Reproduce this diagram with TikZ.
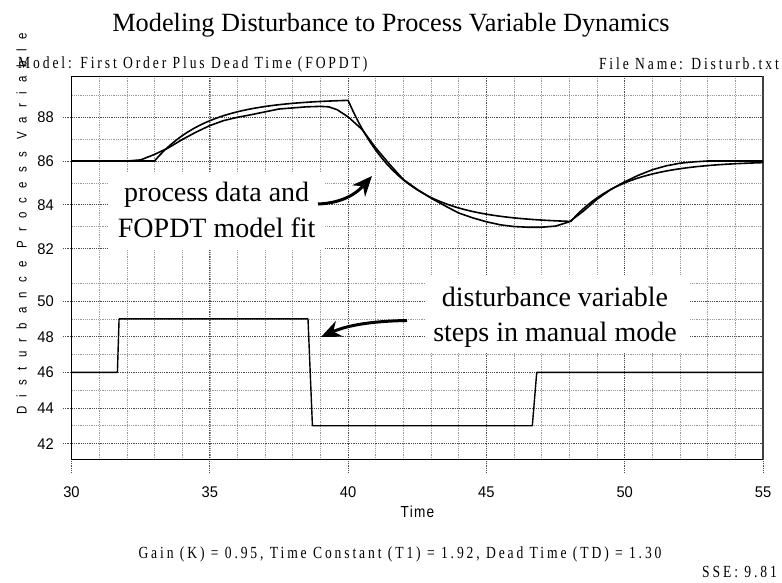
\documentclass[tikz,border=0pt]{standalone}
\usepackage{fontspec}
\setmainfont{Liberation Serif}
\newfontfamily\infoserif{Liberation Serif}[FakeStretch=0.8,LetterSpace=17]
\newfontfamily\ticksans{Liberation Sans}[FakeStretch=0.95]
\newfontfamily\axissans{Liberation Sans}[FakeStretch=0.82,LetterSpace=66]
\newfontfamily\timesans{Liberation Sans}[FakeStretch=0.85,LetterSpace=8]
\usetikzlibrary{arrows.meta}

\begin{document}
\begin{tikzpicture}[x=1pt,y=-1pt,
  minorgrid/.style={draw=black!40, line width=0.6pt, dash pattern=on 1.2pt off 1pt},
  majorgrid/.style={draw=black!70, line width=0.7pt, dash pattern=on 1.2pt off 1pt},
  frame/.style={draw=black, line width=0.9pt},
  trace/.style={draw=black, line width=1.6pt, line join=round},
  callout/.style={line width=3pt, -{Stealth[length=20pt,width=17pt]}},
  note/.style={font=\fontsize{28}{32}\selectfont, inner sep=0pt},
  ticklabel/.style={font=\ticksans\fontsize{15.5}{17}\selectfont, inner sep=0pt},
  info/.style={font=\infoserif\fontsize{17}{19}\selectfont, inner sep=0pt}]

\fill[white] (0,0) rectangle (782,582);
\useasboundingbox (0,0) rectangle (782,582);

% vertical grid (one line per time unit, major every 5)
\foreach \t in {31,...,54}
  \draw[minorgrid] ({71.5+27.66*(\t-30)},76) -- ++(0,383.3);
\foreach \t in {30,35,...,55}
  \draw[majorgrid] ({71.5+27.66*(\t-30)},76) -- ({71.5+27.66*(\t-30)},473);

% horizontal grid, process variable panel
\foreach \v in {83,85,87,89}
  \draw[minorgrid] (71.5,{161-21.85*(\v-86)}) -- (763,{161-21.85*(\v-86)});
\foreach \v in {82,84,86,88}
  \draw[majorgrid] (63,{161-21.85*(\v-86)}) -- (763,{161-21.85*(\v-86)});

% horizontal grid, disturbance panel
\foreach \d in {43,45,47,49,51}
  \draw[minorgrid] (71.5,{372.3-17.8*(\d-46)}) -- (763,{372.3-17.8*(\d-46)});
\foreach \d in {42,44,46,48,50}
  \draw[majorgrid] (63,{372.3-17.8*(\d-46)}) -- (763,{372.3-17.8*(\d-46)});

% white panels behind the annotations
\fill[white] (108,172) rectangle (325,250);
\fill[white] (425,275) rectangle (690,352);

% plot frame
\draw[frame] (763,76) -- (71.5,76) -- (71.5,459.3) -- (763,459.3);
\draw[draw=black!75, line width=1.6pt] (763,76) -- (763,459.3);

% process variable: measured data and FOPDT model response
\begin{scope}[shift={(71.5,161)}]
\begin{scope}[x=27.66pt, y=21.85pt, shift={(-30,-86)}]
  \draw[trace] plot coordinates {
    (30,86) (31,86) (32,86) (32.5,86.05) (33,86.3) (33.5,86.6) (34,86.98)
    (34.5,87.32) (35,87.62) (35.5,87.85) (36,88.0) (36.5,88.12) (37,88.25)
    (37.5,88.38) (38,88.43) (38.5,88.48) (39,88.5) (39.3,88.48) (39.6,88.35)
    (40,88.02) (40.5,87.45) (41,86.6) (41.5,85.85) (42,85.15) (42.5,84.7)
    (43,84.3) (43.5,83.95) (44,83.62) (44.5,83.4) (45,83.22) (45.5,83.08)
    (46,83.0) (46.5,82.97) (47,82.97) (47.5,83.02) (48,83.22) (48.5,83.7)
    (49,84.25) (49.5,84.7) (50,85.05) (50.5,85.35) (51,85.6) (51.5,85.78)
    (52,85.9) (52.5,85.96) (53,86.0) (54,86.0) (55,86.0)};
  \draw[trace] (30,86) -- (33,86)
    -- plot[domain=33:40, samples=36] (\x,{86+2.85*(1-exp(-(\x-33)/1.92))})
    -- plot[domain=40:48.05, samples=41] (\x,{83.15+5.626*exp(-(\x-40)/1.92)})
    -- plot[domain=48.05:55, samples=36] (\x,{86-2.765*exp(-(\x-48.05)/1.92)});
\end{scope}
\end{scope}

% disturbance variable steps
\begin{scope}[shift={(71.5,372.3)}]
\begin{scope}[x=27.66pt, y=17.8pt, shift={(-30,-46)}]
  \draw[trace, line width=1.4pt] (30,46) -- (31.66,46) -- (31.72,49) -- (38.55,49)
    -- (38.71,43) -- (46.66,43) -- (46.82,46) -- (55,46);
\end{scope}
\end{scope}

% value labels
\foreach \v in {82,84,86,88}
  \node[ticklabel, anchor=base east] (pv\v) at (54,{161-21.85*(\v-86)+5.6}) {\v};
\foreach \d in {42,44,46,48,50}
  \node[ticklabel, anchor=base east] (dv\d) at (54,{372.3-17.8*(\d-46)+5.6}) {\d};
\foreach \t in {30,35,...,55}
  \node[ticklabel, anchor=base] (tm\t) at ({71.5+27.66*(\t-30)},497) {\t};

% titles and captions
\node[font=\fontsize{26.3}{30}\selectfont, inner sep=0pt, anchor=base] (title) at (391,31.7)
  {Modeling Disturbance to Process Variable Dynamics};
\node[info, anchor=base west] (model) at (18,68.5) {Model: First Order Plus Dead Time (FOPDT)};
\node[info, anchor=base east] (file) at (779,69) {File Name: Disturb.txt};
\node[font=\axissans\fontsize{14}{16}\selectfont, inner sep=0pt, rotate=90, anchor=base] (ylab)
  at (26.7,224) {Disturbance Process Variable};
\node[font=\timesans\fontsize{16}{18}\selectfont, inner sep=0pt, anchor=base] (xlab) at (417.5,517) {Time};
\node[info, anchor=base] (gain) at (400,558)
  {Gain (K) = 0.95, Time Constant (T1) = 1.92, Dead Time (TD) = 1.30};
\node[info, anchor=base east] (sse) at (777,577) {SSE: 9.81};

% annotations
\node[note, anchor=base] (pvnote1) at (216.7,201.7) {process data and};
\node[note, anchor=base] (pvnote2) at (216.7,237.7) {FOPDT model fit};
\node[note, anchor=base] (dvnote1) at (555,306.7) {disturbance variable};
\node[note, anchor=base] (dvnote2) at (555,341.7) {steps in manual mode};

\coordinate (pvtail) at (318,204);
\coordinate (pvtip) at (372,176);
\draw[callout] (pvtail) .. controls (342,203) and (356,194) .. (pvtip);
\coordinate (dvtail) at (407,320.5);
\coordinate (dvtip) at (321,337);
\draw[callout] (dvtail) .. controls (378,321) and (350,324) .. (dvtip);
\end{tikzpicture}
\end{document}
